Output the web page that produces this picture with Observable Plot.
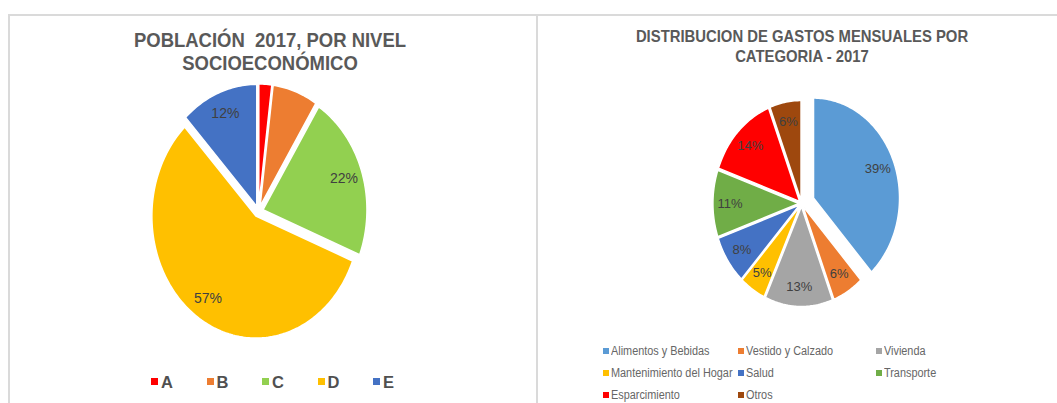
<!DOCTYPE html>
<html>
<head>
<meta charset="utf-8">
<script src="https://cdn.jsdelivr.net/npm/d3@7"></script>
<script src="https://cdn.jsdelivr.net/npm/@observablehq/plot@0.6"></script>
<style>
  html, body { margin: 0; padding: 0; background: #fff; }
  #root { position: relative; width: 1057px; height: 403px; overflow: hidden; background: #fff;
          font-family: "Liberation Sans", Arial, sans-serif; }
  .abs { position: absolute; }
  .title { color: #595959; font-weight: bold; text-align: center; white-space: nowrap; transform-origin: center top; }
  .leg { position: absolute; white-space: nowrap; color: #595959; }
  .sw { position: absolute; }
</style>
</head>
<body>
<div id="root"></div>
<script>
// ---------------- DATA ----------------
const nivelCats   = ["A", "B", "C", "D", "E"];
const nivelVals   = [2, 7, 22, 57, 12];
const nivelLabels = ["", "", "22%", "57%", "12%"];
const nivelColors = ["#FF0000", "#ED7D31", "#92D050", "#FFC000", "#4472C4"];
const nivelTitle  = ["POBLACIÓN\u00a0 2017, POR NIVEL", "SOCIOECONÓMICO"];

const gastoCats   = ["Alimentos y Bebidas", "Vestido y Calzado", "Vivienda", "Mantenimiento del Hogar",
                     "Salud", "Transporte", "Esparcimiento", "Otros"];
const gastoVals   = [39, 6, 13, 5, 8, 11, 14, 6];
const gastoLabels = ["39%", "6%", "13%", "5%", "8%", "11%", "14%", "6%"];
const gastoColors = ["#5B9BD5", "#ED7D31", "#A5A5A5", "#FFC000", "#4472C4", "#70AD47", "#FF0000", "#9E480E"];
const gastoTitle  = ["DISTRIBUCION DE GASTOS MENSUALES POR", "CATEGORIA - 2017"];

// ---------------- DRAWING ----------------
const root = document.getElementById("root");

function el(tag, cls, style, text) {
  const e = document.createElement(tag);
  if (cls) e.className = cls;
  Object.assign(e.style, style);
  if (text != null) e.textContent = text;
  root.appendChild(e);
  return e;
}

// panel borders
el("div", "abs", {left: "9px", top: "14px", width: "1048px", height: "2px", background: "#dadada"});
el("div", "abs", {left: "8px", top: "14px", width: "2px", height: "389px", background: "#dadada"});
el("div", "abs", {left: "536px", top: "14px", width: "2px", height: "389px", background: "#dadada"});

function pieChart({cats, vals, labels, colors, rx, ry, w, h, explode, k, fontSize}) {
  const total = d3.sum(vals);
  let acc = 0;
  const poly = [], lab = [];
  cats.forEach((c, i) => {
    const a0 = acc / total * 2 * Math.PI; acc += vals[i];
    const a1 = acc / total * 2 * Math.PI;
    const am = (a0 + a1) / 2, e = explode(c);
    const ox = e * Math.sin(am), oy = e * Math.cos(am);
    poly.push({cat: c, x: ox, y: oy});
    const n = Math.max(2, Math.ceil((a1 - a0) / 0.02));
    for (let j = 0; j <= n; j++) {
      const a = a0 + (a1 - a0) * j / n;
      poly.push({cat: c, x: ox + Math.sin(a), y: oy + Math.cos(a)});
    }
    if (labels[i]) lab.push({text: labels[i], x: ox + k * Math.sin(am), y: oy + k * Math.cos(am)});
  });
  return Plot.plot({
    width: w, height: h, margin: 0,
    style: {background: "transparent", fontFamily: "Liberation Sans, Arial, sans-serif"},
    x: {domain: [-w / 2 / rx, w / 2 / rx], axis: null},
    y: {domain: [-h / 2 / ry, h / 2 / ry], axis: null},
    color: {domain: cats, range: colors},
    marks: [
      Plot.line(poly, {x: "x", y: "y", z: "cat", fill: "cat", stroke: "white", strokeWidth: 1.5, curve: "linear-closed"}),
      Plot.text(lab, {x: "x", y: "y", text: "text", fill: "#404040", fontSize})
    ]
  });
}

// ---- Left chart ----
{
  const t = el("div", "abs title", {left: "20px", top: "28px", width: "500px", fontSize: "21px", lineHeight: "23px", transform: "scaleX(0.88)"});
  t.innerHTML = nivelTitle.join("<br>");
  const w = 260, h = 290, cx = 258, cy = 211;
  const svg = pieChart({cats: nivelCats, vals: nivelVals, labels: nivelLabels, colors: nivelColors,
    rx: 104, ry: 122, w, h, explode: () => 0.045, k: 0.82, fontSize: 14});
  const holder = el("div", "abs", {left: (cx - w / 2) + "px", top: (cy - h / 2) + "px"});
  holder.appendChild(svg);
  // legend
  nivelCats.forEach((c, i) => {
    const x0 = 151 + i * 55.5;
    el("div", "sw", {left: x0 + "px", top: "378px", width: "7px", height: "7px", background: nivelColors[i]});
    el("div", "leg", {left: (x0 + 10) + "px", top: "374px", fontSize: "16.5px", lineHeight: "16px", fontWeight: "bold", color: "#505050"}, c);
  });
}

// ---- Right chart ----
{
  const t = el("div", "abs title", {left: "552px", top: "26px", width: "500px", fontSize: "16.5px", lineHeight: "20px", transform: "scaleX(0.9)"});
  t.innerHTML = gastoTitle.join("<br>");
  const w = 230, h = 240, cx = 801, cy = 203;
  const svg = pieChart({cats: gastoCats, vals: gastoVals, labels: gastoLabels, colors: gastoColors,
    rx: 86, ry: 100, w, h, explode: c => c === gastoCats[0] ? 0.15 : 0.03, k: 0.8, fontSize: 13});
  const holder = el("div", "abs", {left: (cx - w / 2) + "px", top: (cy - h / 2) + "px"});
  holder.appendChild(svg);
  const colX = [603, 738, 876];
  const rowY = [351, 373, 395];
  gastoCats.forEach((c, i) => {
    const x0 = colX[i % 3], yc = rowY[Math.floor(i / 3)];
    el("div", "sw", {left: x0 + "px", top: (yc - 3) + "px", width: "6px", height: "6px", background: gastoColors[i]});
    el("div", "leg", {left: (x0 + 8) + "px", top: (yc - 7) + "px", fontSize: "12.5px", lineHeight: "14px", transform: "scaleX(0.87)", transformOrigin: "left center", color: "#666"}, c);
  });
}
</script>
</body>
</html>
